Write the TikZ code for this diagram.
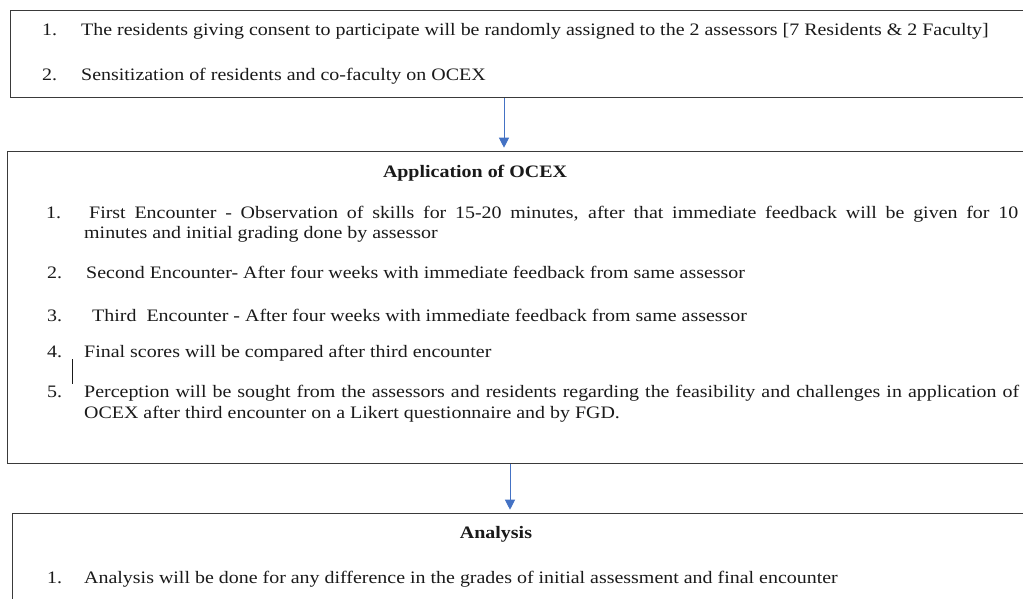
\documentclass[tikz,border=0pt]{standalone}
\usepackage{fontspec}
\setmainfont{Liberation Serif}[FakeStretch=1.14]
\usetikzlibrary{arrows.meta}
\definecolor{arrowblue}{HTML}{4472C4}
\definecolor{boxline}{HTML}{3A3A3A}
\definecolor{ink}{HTML}{1A1A1A}
\begin{document}
\begin{tikzpicture}[x=1pt,y=-1pt,
  box/.style={draw=boxline,line width=1.2pt,rectangle,inner sep=0pt,anchor=north west},
  txt/.style={inner sep=0pt,anchor=base west,text=ink,font=\fontsize{17.5}{21}\selectfont},
  ttl/.style={inner sep=0pt,anchor=base,text=ink,font=\fontsize{17.5}{21}\selectfont\bfseries},
  arr/.style={draw=arrowblue,line width=1pt,-{Triangle[width=10pt,length=10pt]},shorten >=3pt}]
\useasboundingbox (0,0) rectangle (1023,598);
\clip (0,0) rectangle (1023,598);
\fill[white] (0,0) rectangle (1023,598);
% boxes
\node[box,minimum width=1040pt,minimum height=87pt] (b1) at (9.5,10) {};
\node[box,minimum width=1040pt,minimum height=312pt] (b2) at (7,150.7) {};
\node[box,minimum width=1040pt,minimum height=130pt] (b3) at (12,512.7) {};
% box 1 text
\node[txt] (b1n1) at (42,35) {1.};
\node[txt] (b1t1) at (81,35) {The residents giving consent to participate will be randomly assigned to the 2 assessors [7 Residents \& 2 Faculty]};
\node[txt] (b1n2) at (42,80) {2.};
\node[txt] (b1t2) at (81,80) {Sensitization of residents and co-faculty on OCEX};
% box 2 text
\node[ttl] (b2h) at (475,177) {Application of OCEX};
\node[txt] (b2n1) at (46,218) {1.};
\node[txt] (b2t1) at (89,218) {\makebox[929pt][s]{First Encounter - Observation of skills for 15-20 minutes, after that immediate feedback will be given for 10}};
\node[txt] (b2t1b) at (84,238) {minutes and initial grading done by assessor};
\node[txt] (b2n2) at (47,278) {2.};
\node[txt] (b2t2) at (86,278) {Second Encounter- After four weeks with immediate feedback from same assessor};
\node[txt] (b2n3) at (47,321) {3.};
\node[txt] (b2t3) at (92,321) {Third\ \ Encounter - After four weeks with immediate feedback from same assessor};
\node[txt] (b2n4) at (47,357) {4.};
\node[txt] (b2t4) at (84,357) {Final scores will be compared after third encounter};
\node[txt] (b2n5) at (47,397) {5.};
\node[txt] (b2t5) at (84,397) {\makebox[935pt][s]{Perception will be sought from the assessors and residents regarding the feasibility and challenges in application of}};
\node[txt] (b2t5b) at (84,418) {OCEX after third encounter on a Likert questionnaire and by FGD.};
% stray mark
\coordinate (m1) at (72,359);
\coordinate (m2) at (72,384);
\draw[ink,line width=0.9pt] (m1) -- (m2);
% box 3 text
\node[ttl] (b3h) at (496,538) {Analysis};
\node[txt] (b3n1) at (47,583) {1.};
\node[txt] (b3t1) at (84,583) {Analysis will be done for any difference in the grades of initial assessment and final encounter};
% arrows
\coordinate (x1) at (504,0);
\coordinate (x2) at (510,0);
\draw[arr] (b1.south -| x1) -- (b2.north -| x1);
\draw[arr] (b2.south -| x2) -- (b3.north -| x2);
\end{tikzpicture}
\end{document}
